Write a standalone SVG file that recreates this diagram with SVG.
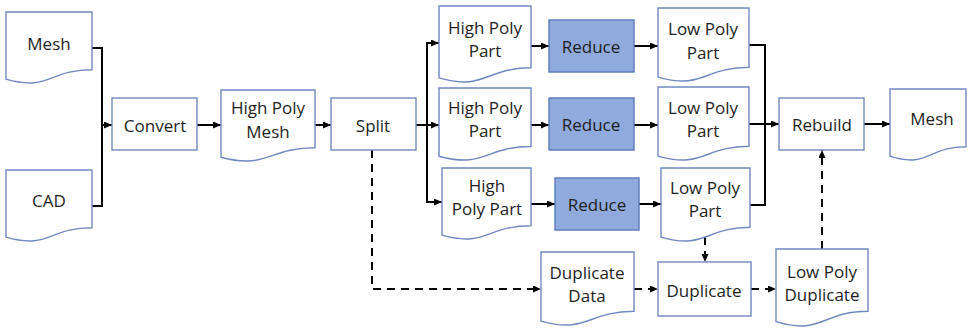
<svg xmlns="http://www.w3.org/2000/svg" width="971" height="331" viewBox="0 0 971 331">
<defs>
<style>
.doc,.box{fill:#fff;stroke:#7088c2;stroke-width:1.4}
.red{fill:#8faadc;stroke:#5a79b8;stroke-width:1.4}
text{font-family:"Open Sans","Liberation Sans",sans-serif;font-size:17px;fill:#1e1e1e;text-anchor:middle;dominant-baseline:central}
.c{fill:none;stroke:#000;stroke-width:2}
.a{marker-end:url(#ah)}
.d{stroke-dasharray:8 6}
</style>
<marker id="ah" markerUnits="userSpaceOnUse" markerWidth="9" markerHeight="8" refX="8" refY="3.5" orient="auto"><path d="M0,0 L8,3.5 L0,7 z" fill="#000"/></marker>
</defs>
<rect width="971" height="331" fill="#fff"/>

<g id="connectors">
<polyline class="c" points="92,48 102,48 102,206 92,206"/>
<line class="c a" x1="102" y1="125" x2="112" y2="125"/>
<line class="c a" x1="197" y1="125" x2="221" y2="125"/>
<line class="c a" x1="315" y1="125" x2="331" y2="125"/>
<line class="c" x1="416" y1="125" x2="427" y2="125"/>
<line class="c" x1="427" y1="43" x2="427" y2="202"/>
<line class="c a" x1="426" y1="43" x2="439" y2="43"/>
<line class="c a" x1="427" y1="125" x2="439" y2="125"/>
<line class="c a" x1="426" y1="202" x2="442" y2="202"/>
<line class="c a" x1="531" y1="46" x2="549" y2="46"/>
<line class="c a" x1="531" y1="125" x2="549" y2="125"/>
<line class="c a" x1="531" y1="204" x2="555" y2="204"/>
<line class="c a" x1="634" y1="46" x2="658" y2="46"/>
<line class="c a" x1="634" y1="125" x2="658" y2="125"/>
<line class="c a" x1="639" y1="204" x2="661" y2="204"/>
<polyline class="c" points="749,45 765,45 765,205 750,205"/>
<line class="c" x1="749" y1="124" x2="765" y2="124"/>
<line class="c a" x1="765" y1="124" x2="779" y2="124"/>
<line class="c a" x1="864" y1="124" x2="890" y2="124"/>
<polyline class="c d a" points="372,150 372,289 541,289"/>
<line class="c d a" x1="634" y1="289" x2="658" y2="289"/>
<line class="c d a" x1="705" y1="237" x2="705" y2="262"/>
<line class="c d a" x1="751" y1="289" x2="776" y2="289"/>
<line class="c d a" x1="822" y1="249" x2="822" y2="150"/>
</g>

<g id="mesh-in"><path class="doc" d="M6,12 H92 V69.7 C49,69.7 49,91.7 6,79.2 Z"/><text x="49" y="43">Mesh</text></g>
<g id="cad"><path class="doc" d="M6,170 H92 V227.7 C49,227.7 49,249.7 6,237.2 Z"/><text x="49" y="200">CAD</text></g>
<g id="convert"><rect class="box" x="112" y="98" width="85" height="52"/><text x="155" y="125">Convert</text></g>
<g id="hp-mesh"><path class="doc" d="M221,90 H315 V147.7 C268,147.7 268,169.7 221,157.2 Z"/><text x="268" y="107">High Poly</text><text x="268" y="131">Mesh</text></g>
<g id="split"><rect class="box" x="331" y="98" width="85" height="52"/><text x="373" y="125">Split</text></g>

<g id="hp-part-1"><path class="doc" d="M439,6 H531 V67.8 C485,67.8 485,91.2 439,77.9 Z"/><text x="485" y="27">High Poly</text><text x="485" y="50">Part</text></g>
<g id="hp-part-2"><path class="doc" d="M439,88 H531 V146.5 C485,146.5 485,168.8 439,156.2 Z"/><text x="485" y="107">High Poly</text><text x="485" y="130">Part</text></g>
<g id="hp-part-3"><path class="doc" d="M442,168 H531 V225.7 C486.5,225.7 486.5,247.7 442,235.2 Z"/><text x="487" y="185">High</text><text x="487" y="208">Poly Part</text></g>

<g id="reduce-1"><rect class="red" x="549" y="20" width="85" height="52"/><text x="591" y="46">Reduce</text></g>
<g id="reduce-2"><rect class="red" x="549" y="98" width="85" height="52"/><text x="591" y="124">Reduce</text></g>
<g id="reduce-3"><rect class="red" x="555" y="178" width="84" height="52"/><text x="597" y="204">Reduce</text></g>

<g id="lp-part-1"><path class="doc" d="M658,8 H749 V67.3 C703.5,67.3 703.5,89.9 658,77.1 Z"/><text x="703" y="28">Low Poly</text><text x="703" y="52">Part</text></g>
<g id="lp-part-2"><path class="doc" d="M658,87 H749 V146.3 C703.5,146.3 703.5,168.9 658,156.1 Z"/><text x="703" y="107">Low Poly</text><text x="703" y="130">Part</text></g>
<g id="lp-part-3"><path class="doc" d="M661,168 H750 V227.3 C705.5,227.3 705.5,249.9 661,237.1 Z"/><text x="705" y="187">Low Poly</text><text x="705" y="210">Part</text></g>

<g id="rebuild"><rect class="box" x="779" y="98" width="85" height="52"/><text x="822" y="124">Rebuild</text></g>
<g id="mesh-out"><path class="doc" d="M890,89 H966 V146.7 C928,146.7 928,168.7 890,156.2 Z"/><text x="932" y="118">Mesh</text></g>

<g id="dup-data"><path class="doc" d="M541,252 H634 V311.3 C587.5,311.3 587.5,333.9 541,321.1 Z"/><text x="587" y="272">Duplicate</text><text x="587" y="295">Data</text></g>
<g id="duplicate"><rect class="box" x="658" y="262" width="93" height="54"/><text x="704" y="290">Duplicate</text></g>
<g id="lp-duplicate"><path class="doc" d="M776,249 H868 V311.2 C822,311.2 822,335.6 776,321.7 Z"/><text x="822" y="271">Low Poly</text><text x="822" y="294">Duplicate</text></g>
</svg>
